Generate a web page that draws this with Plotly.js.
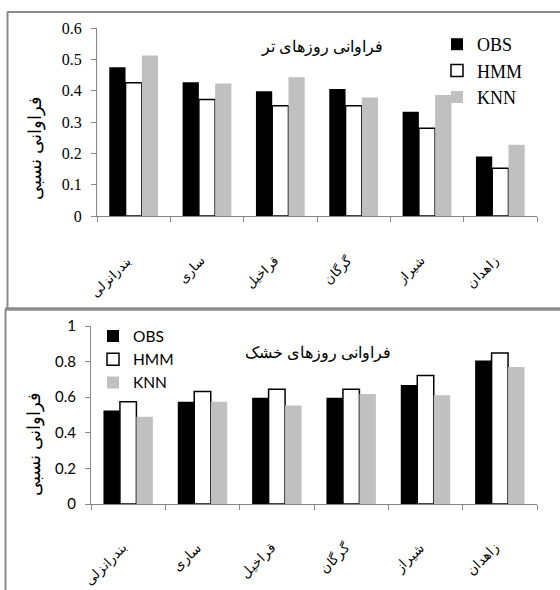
<!DOCTYPE html>
<html><head><meta charset="utf-8">
<script src="https://cdn.plot.ly/plotly-3.0.1.min.js"></script>
<style>body{margin:0;background:#fff}#chart{width:560px;height:590px}</style>
</head><body><div id="chart"></div>
<script>
const stations = ['بندرانزلی','ساری','قراخیل','گرگان','شیراز','زاهدان'];
const seriesNames = ['OBS','HMM','KNN'];
const wetOBS = [0.475,0.427,0.398,0.405,0.333,0.19];
const wetHMM = [0.425,0.372,0.352,0.352,0.28,0.152];
const wetKNN = [0.512,0.423,0.443,0.378,0.386,0.227];
const dryOBS = [0.525,0.574,0.597,0.597,0.668,0.806];
const dryHMM = [0.574,0.632,0.645,0.645,0.722,0.848];
const dryKNN = [0.49,0.575,0.553,0.618,0.611,0.769];
const wetTitle = 'فراوانی روزهای تر';
const dryTitle = 'فراوانی روزهای خشک';
const yTitle = 'فراوانی نسبی';

const serif = "Liberation Serif";
const sans = "Lato";
const markers = [
  {color:'#000000', line:{color:'#000000', width:0}},
  {color:'#ffffff', line:{color:'#000000', width:1.5}},
  {color:'#c0c0c0', line:{color:'#c0c0c0', width:0}}
];
const wet = [wetOBS, wetHMM, wetKNN];
const dry = [dryOBS, dryHMM, dryKNN];
const traces = [];
wet.forEach((v,i)=>traces.push({type:'bar', name:seriesNames[i], x:stations, y:v, xaxis:'x', yaxis:'y', legend:'legend', marker:markers[i], hoverinfo:'x+y+name'}));
dry.forEach((v,i)=>traces.push({type:'bar', name:seriesNames[i], x:stations, y:v, xaxis:'x2', yaxis:'y2', legend:'legend2', marker:markers[i], hoverinfo:'x+y+name'}));

const W=560,H=590;
const px=v=>v/W, py=v=>1-v/H;
const axisGray='#868686', borderGray='#8c8c8c';
const ann = (x,y,text,font,angle)=>({xref:'paper', yref:'paper', x:px(x), y:py(y), xanchor:'center', yanchor:'middle',
  text:text, textangle:angle||0, showarrow:false, font:font});
const layout = {
  width:W, height:H, margin:{l:0,r:0,t:0,b:0},
  paper_bgcolor:'#fff', plot_bgcolor:'#fff',
  barmode:'group', bargap:0.335, bargroupgap:0,
  showlegend:true,
  xaxis:{domain:[px(97),px(537)], anchor:'y', type:'category', tickson:'boundaries', ticks:'outside', ticklen:5, tickcolor:axisGray,
    showline:true, linecolor:axisGray, linewidth:1, showgrid:false, tickangle:-45, ticklabelstandoff:31, ticklabelshift:-6,
    tickfont:{family:serif, size:13, color:'#000'}},
  yaxis:{domain:[py(216),py(28)], anchor:'x', range:[0,0.6], dtick:0.1, ticks:'outside', ticklen:5, tickcolor:axisGray,
    showline:true, linecolor:axisGray, linewidth:1, showgrid:false, zeroline:false, ticklabelstandoff:6,
    tickfont:{family:serif, size:16, color:'#000'}},
  xaxis2:{domain:[px(91),px(537)], anchor:'y2', type:'category', tickson:'boundaries', ticks:'outside', ticklen:5, tickcolor:axisGray,
    showline:true, linecolor:axisGray, linewidth:1, showgrid:false, tickangle:-45, ticklabelstandoff:29, ticklabelshift:-5,
    tickfont:{family:sans, size:13.5, color:'#000'}},
  yaxis2:{domain:[py(504),py(326)], anchor:'x2', range:[0,1], dtick:0.2, ticks:'outside', ticklen:5, tickcolor:axisGray,
    showline:true, linecolor:axisGray, linewidth:1, showgrid:false, zeroline:false, ticklabelstandoff:6,
    tickfont:{family:sans, size:15, color:'#000'}},
  legend:{x:px(437), y:py(26), xanchor:'left', yanchor:'top', bgcolor:'rgba(0,0,0,0)', itemwidth:30, tracegroupgap:0,
    font:{family:serif, size:18, color:'#000'}},
  legend2:{x:px(93), y:py(319.5), xanchor:'left', yanchor:'top', bgcolor:'rgba(0,0,0,0)', itemwidth:30, tracegroupgap:0,
    font:{family:sans, size:15.5, color:'#000'}},
  annotations:[
    ann(322, 47, wetTitle, {family:serif, size:16, color:'#000'}),
    ann(318, 352, dryTitle, {family:sans, size:16, color:'#000'}),
    ann(34.5, 148, yTitle, {family:serif, size:18, color:'#000'}, -90),
    ann(33, 444, yTitle, {family:sans, size:18, color:'#000'}, -90)
  ],
  shapes:[
    {type:'line', xref:'paper', yref:'paper', x0:px(7), x1:1, y0:py(12), y1:py(12), line:{color:borderGray, width:2}},
    {type:'line', xref:'paper', yref:'paper', x0:px(7.5), x1:px(7.5), y0:py(12), y1:py(309), line:{color:borderGray, width:2}},
    {type:'line', xref:'paper', yref:'paper', x0:px(5), x1:1, y0:py(309), y1:py(309), line:{color:borderGray, width:3.5}},
    {type:'line', xref:'paper', yref:'paper', x0:px(5.5), x1:px(5.5), y0:py(309), y1:0, line:{color:borderGray, width:2}}
  ]
};
Plotly.newPlot('chart', traces, layout, {displayModeBar:false, staticPlot:true});
</script>
</body></html>
